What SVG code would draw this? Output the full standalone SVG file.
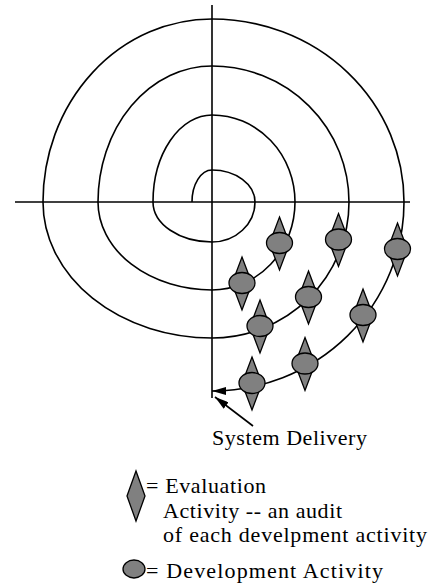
<svg xmlns="http://www.w3.org/2000/svg" xmlns:xlink="http://www.w3.org/1999/xlink" width="430" height="584" viewBox="0 0 430 584">
<style>
.ln{fill:none;stroke:#000;stroke-width:1.6}
.sh{fill:#808080;stroke:#000;stroke-width:1.3;stroke-linejoin:miter}
.tx{font-family:"Liberation Serif","Times New Roman",serif;font-size:22px;fill:#000}
</style>
<defs>
<marker id="arr" markerUnits="userSpaceOnUse" viewBox="0 0 14 8" refX="14" refY="4" markerWidth="14" markerHeight="8" orient="auto">
<path d="M0,0 L14,4 L0,8 z" fill="#000"/>
</marker>
<g id="nd">
<polygon class="sh" points="0,-26 10,0.5 0,27 -10,0.5"/>
<ellipse class="sh" cx="0" cy="0" rx="13" ry="10.5"/>
</g>
</defs>
<rect width="430" height="584" fill="#fff"/>
<g id="connectors">
<line class="ln" x1="15" y1="202" x2="410" y2="202"/>
<line class="ln" x1="212" y1="5" x2="212" y2="398"/>
<path class="ln" marker-end="url(#arr)" d="M192,202 A20,32 0 0 1 212,170 A43,32 0 0 1 255,202 A43,40 0 0 1 212,242 A59,40 0 0 1 153,202 A59,87 0 0 1 212,115 A83,87 0 0 1 295,202 A83,88 0 0 1 212,290 A114,88 0 0 1 98,202 A114,136 0 0 1 212,66 A137,136 0 0 1 349,202 A137,136 0 0 1 212,338 A169,136 0 0 1 43,202 A169,183 0 0 1 212,19 A192,183 0 0 1 404,202 A192,189 0 0 1 212,391"/>
<line class="ln" marker-end="url(#arr)" x1="253" y1="426" x2="215" y2="397"/>
</g>
<g id="node1"><use xlink:href="#nd" x="279.5" y="243"/></g>
<g id="node2"><use xlink:href="#nd" x="242" y="283"/></g>
<g id="node3"><use xlink:href="#nd" x="338.5" y="239.5"/></g>
<g id="node4"><use xlink:href="#nd" x="308.5" y="297"/></g>
<g id="node5"><use xlink:href="#nd" x="260" y="326"/></g>
<g id="node6"><use xlink:href="#nd" x="397.5" y="249"/></g>
<g id="node7"><use xlink:href="#nd" x="363" y="315"/></g>
<g id="node8"><use xlink:href="#nd" x="305" y="363.5"/></g>
<g id="node9"><use xlink:href="#nd" x="252" y="383"/></g>
<g id="label-delivery"><text class="tx" x="212" y="445" textLength="155">System Delivery</text></g>
<g id="legend-evaluation">
<polygon class="sh" points="136,471 145,496 136,521 127,496"/>
<text class="tx" x="146" y="493" textLength="120">= Evaluation</text>
<text class="tx" x="163" y="517.5" textLength="179">Activity -- an audit</text>
<text class="tx" x="163" y="542" textLength="264">of each develpment activity</text>
</g>
<g id="legend-development">
<ellipse class="sh" cx="134" cy="569" rx="11" ry="9"/>
<text class="tx" x="146" y="578" textLength="237">= Development Activity</text>
</g>
</svg>
